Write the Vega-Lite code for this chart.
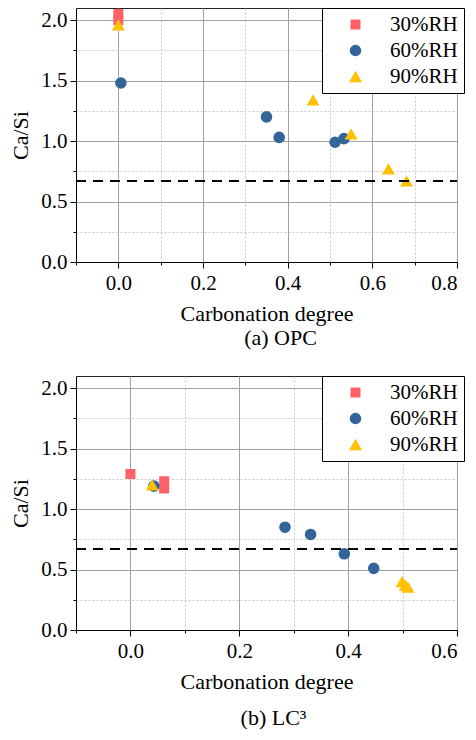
{
  "$schema": "https://vega.github.io/schema/vega-lite/v6.json",
  "padding": {"left": 9, "top": 7, "right": 0, "bottom": 0},
  "spacing": 25,
  "config": {
    "font": "Liberation Serif",
    "view": {"stroke": "#222", "strokeWidth": 1},
    "axis": {"labelColor": "#000", "titleColor": "#000", "domainColor": "#000", "tickColor": "#000"},
    "axisX": {"labelFont": {"expr": "'Liberation Serif'"}, "titleFont": {"expr": "'Liberation Serif'"}},
    "axisY": {"labelFont": {"expr": "'Liberation Serif'"}, "titleFont": {"expr": "'Liberation Serif'"}},
    "legend": {"labelFont": {"expr": "'Liberation Serif'"}}
  },
  "datasets": {
    "opc": [
      {"rh": "30%RH", "degree": 0.0, "ratio": 2.05},
      {"rh": "30%RH", "degree": 0.0, "ratio": 2.0},
      {"rh": "60%RH", "degree": 0.006, "ratio": 1.48},
      {"rh": "60%RH", "degree": 0.35, "ratio": 1.2},
      {"rh": "60%RH", "degree": 0.38, "ratio": 1.03},
      {"rh": "60%RH", "degree": 0.512, "ratio": 0.99},
      {"rh": "60%RH", "degree": 0.533, "ratio": 1.02},
      {"rh": "90%RH", "degree": 0.0, "ratio": 1.96},
      {"rh": "90%RH", "degree": 0.46, "ratio": 1.34},
      {"rh": "90%RH", "degree": 0.55, "ratio": 1.06},
      {"rh": "90%RH", "degree": 0.638, "ratio": 0.77},
      {"rh": "90%RH", "degree": 0.681, "ratio": 0.67}
    ],
    "lc3": [
      {"rh": "30%RH", "degree": 0.0, "ratio": 1.29},
      {"rh": "30%RH", "degree": 0.062, "ratio": 1.23},
      {"rh": "30%RH", "degree": 0.062, "ratio": 1.17},
      {"rh": "60%RH", "degree": 0.043, "ratio": 1.19},
      {"rh": "60%RH", "degree": 0.284, "ratio": 0.85},
      {"rh": "60%RH", "degree": 0.331, "ratio": 0.79},
      {"rh": "60%RH", "degree": 0.393, "ratio": 0.63},
      {"rh": "60%RH", "degree": 0.447, "ratio": 0.51},
      {"rh": "90%RH", "degree": 0.04, "ratio": 1.2},
      {"rh": "90%RH", "degree": 0.499, "ratio": 0.4},
      {"rh": "90%RH", "degree": 0.505, "ratio": 0.37},
      {"rh": "90%RH", "degree": 0.51, "ratio": 0.355}
    ],
    "threshold_opc": [{"ratio": 0.67, "from": -0.1, "to": 0.8}],
    "threshold_lc3": [{"ratio": 0.67, "from": -0.1, "to": 0.6}]
  },
  "vconcat": [
    {
      "width": 381, "height": 254,
      "title": {"text": "(a) OPC", "orient": "bottom", "dx": 14, "offset": 4, "font": "Liberation Serif", "fontSize": 22, "fontWeight": "normal", "color": "#000"},
      "layer": [
        {
          "data": {"name": "opc"},
          "mark": {"type": "point", "filled": true, "opacity": 1},
          "encoding": {
            "x": {"field": "degree", "type": "quantitative", "title": "Carbonation degree",
              "scale": {"domain": [-0.1, 0.8], "nice": false, "zero": false},
              "axis": {"grid": true, "values": [-0.1, 0, 0.1, 0.2, 0.3, 0.4, 0.5, 0.6, 0.7, 0.8], "format": ".1f",
                "labelFont": {"expr": "'Liberation Serif'"}, "titleFont": {"expr": "'Liberation Serif'"}, "labelFontSize": 21, "titleFontSize": 22, "titleFontWeight": "normal",
                "labelExpr": "round(datum.value*10) % 2 != 0 ? '' : datum.label",
                "tickSize": {"condition": {"test": "round(datum.value*10) % 2 != 0", "value": 3}, "value": 6},
                "gridDash": {"condition": {"test": "round(datum.value*10) % 2 != 0", "value": [2, 2]}, "value": []},
                "gridColor": {"condition": {"test": "round(datum.value*10) % 2 != 0", "value": "#c8c8c8"}, "value": "#a0a0a0"},
                "labelPadding": 4, "titlePadding": 10}},
            "y": {"field": "ratio", "type": "quantitative", "title": "Ca/Si",
              "scale": {"domain": [0, 2.1], "nice": false},
              "axis": {"grid": true, "values": [0, 0.25, 0.5, 0.75, 1, 1.25, 1.5, 1.75, 2], "format": ".1f",
                "labelFont": {"expr": "'Liberation Serif'"}, "titleFont": {"expr": "'Liberation Serif'"}, "labelFontSize": 21, "titleFontSize": 22, "titleFontWeight": "normal",
                "labelExpr": "round(datum.value*4) % 2 != 0 ? '' : datum.label",
                "tickSize": {"condition": {"test": "round(datum.value*4) % 2 != 0", "value": 3}, "value": 6},
                "gridDash": {"condition": {"test": "round(datum.value*4) % 2 != 0", "value": [2, 2]}, "value": []},
                "gridColor": {"condition": {"test": "round(datum.value*4) % 2 != 0", "value": "#c8c8c8"}, "value": "#a0a0a0"},
                "labelPadding": 3, "titlePadding": 8}},
            "color": {"field": "rh", "type": "nominal", "title": null,
              "scale": {"domain": ["30%RH", "60%RH", "90%RH"], "range": ["#fe6266", "#33649a", "#ffc000"]},
              "legend": {"orient": "none", "legendX": 246, "legendY": 0, "strokeColor": "#000", "fillColor": "#fff",
                "padding": 6, "symbolOffset": 17, "labelOffset": 24, "rowPadding": 4, "labelFontSize": 21, "labelFont": {"expr": "'Liberation Serif'"}, "labelColor": "#000"}},
            "shape": {"field": "rh", "type": "nominal", "title": null,
              "scale": {"domain": ["30%RH", "60%RH", "90%RH"], "range": ["square", "circle", "triangle-up"]},
              "legend": {"orient": "none", "legendX": 246, "legendY": 0, "strokeColor": "#000", "fillColor": "#fff",
                "padding": 6, "symbolOffset": 17, "labelOffset": 24, "rowPadding": 4, "labelFontSize": 21, "labelFont": {"expr": "'Liberation Serif'"}, "labelColor": "#000"}},
            "size": {"field": "rh", "type": "ordinal", "title": null,
              "scale": {"domain": ["30%RH", "60%RH", "90%RH"], "range": [100, 170, 210]},
              "legend": {"orient": "none", "legendX": 246, "legendY": 0, "strokeColor": "#000", "fillColor": "#fff",
                "padding": 6, "symbolOffset": 17, "labelOffset": 24, "rowPadding": 4, "labelFontSize": 21, "labelFont": {"expr": "'Liberation Serif'"}, "labelColor": "#000"}}
          }
        },
        {
          "data": {"name": "threshold_opc"},
          "mark": {"type": "rule", "color": "#000", "strokeWidth": 2, "strokeDash": [10, 7]},
          "encoding": {
            "x": {"field": "from", "type": "quantitative", "title": "Carbonation degree",
              "scale": {"domain": [-0.1, 0.8], "nice": false, "zero": false},
              "axis": {"grid": true, "values": [-0.1, 0, 0.1, 0.2, 0.3, 0.4, 0.5, 0.6, 0.7, 0.8], "format": ".1f",
                "labelFont": {"expr": "'Liberation Serif'"}, "titleFont": {"expr": "'Liberation Serif'"}, "labelFontSize": 21, "titleFontSize": 22, "titleFontWeight": "normal",
                "labelExpr": "round(datum.value*10) % 2 != 0 ? '' : datum.label",
                "tickSize": {"condition": {"test": "round(datum.value*10) % 2 != 0", "value": 3}, "value": 6},
                "gridDash": {"condition": {"test": "round(datum.value*10) % 2 != 0", "value": [2, 2]}, "value": []},
                "gridColor": {"condition": {"test": "round(datum.value*10) % 2 != 0", "value": "#c8c8c8"}, "value": "#a0a0a0"},
                "labelPadding": 4, "titlePadding": 10}},
            "x2": {"field": "to"},
            "y": {"field": "ratio", "type": "quantitative", "title": "Ca/Si",
              "scale": {"domain": [0, 2.1], "nice": false},
              "axis": {"grid": true, "values": [0, 0.25, 0.5, 0.75, 1, 1.25, 1.5, 1.75, 2], "format": ".1f",
                "labelFont": {"expr": "'Liberation Serif'"}, "titleFont": {"expr": "'Liberation Serif'"}, "labelFontSize": 21, "titleFontSize": 22, "titleFontWeight": "normal",
                "labelExpr": "round(datum.value*4) % 2 != 0 ? '' : datum.label",
                "tickSize": {"condition": {"test": "round(datum.value*4) % 2 != 0", "value": 3}, "value": 6},
                "gridDash": {"condition": {"test": "round(datum.value*4) % 2 != 0", "value": [2, 2]}, "value": []},
                "gridColor": {"condition": {"test": "round(datum.value*4) % 2 != 0", "value": "#c8c8c8"}, "value": "#a0a0a0"},
                "labelPadding": 3, "titlePadding": 8}}
          }
        }
      ]
    },
    {
      "width": 381, "height": 254,
      "title": {"text": "(b) LC³", "orient": "bottom", "dx": 7, "offset": 16, "font": "Liberation Serif", "fontSize": 22, "fontWeight": "normal", "color": "#000"},
      "layer": [
        {
          "data": {"name": "lc3"},
          "mark": {"type": "point", "filled": true, "opacity": 1},
          "encoding": {
            "x": {"field": "degree", "type": "quantitative", "title": "Carbonation degree",
              "scale": {"domain": [-0.1, 0.6], "nice": false, "zero": false},
              "axis": {"grid": true, "values": [-0.1, 0, 0.1, 0.2, 0.3, 0.4, 0.5, 0.6], "format": ".1f",
                "labelFont": {"expr": "'Liberation Serif'"}, "titleFont": {"expr": "'Liberation Serif'"}, "labelFontSize": 21, "titleFontSize": 22, "titleFontWeight": "normal",
                "labelExpr": "round(datum.value*10) % 2 != 0 ? '' : datum.label",
                "tickSize": {"condition": {"test": "round(datum.value*10) % 2 != 0", "value": 3}, "value": 6},
                "gridDash": {"condition": {"test": "round(datum.value*10) % 2 != 0", "value": [2, 2]}, "value": []},
                "gridColor": {"condition": {"test": "round(datum.value*10) % 2 != 0", "value": "#c8c8c8"}, "value": "#a0a0a0"},
                "labelPadding": 4, "titlePadding": 10}},
            "y": {"field": "ratio", "type": "quantitative", "title": "Ca/Si",
              "scale": {"domain": [0, 2.1], "nice": false},
              "axis": {"grid": true, "values": [0, 0.25, 0.5, 0.75, 1, 1.25, 1.5, 1.75, 2], "format": ".1f",
                "labelFont": {"expr": "'Liberation Serif'"}, "titleFont": {"expr": "'Liberation Serif'"}, "labelFontSize": 21, "titleFontSize": 22, "titleFontWeight": "normal",
                "labelExpr": "round(datum.value*4) % 2 != 0 ? '' : datum.label",
                "tickSize": {"condition": {"test": "round(datum.value*4) % 2 != 0", "value": 3}, "value": 6},
                "gridDash": {"condition": {"test": "round(datum.value*4) % 2 != 0", "value": [2, 2]}, "value": []},
                "gridColor": {"condition": {"test": "round(datum.value*4) % 2 != 0", "value": "#c8c8c8"}, "value": "#a0a0a0"},
                "labelPadding": 3, "titlePadding": 8}},
            "color": {"field": "rh", "type": "nominal", "title": null,
              "scale": {"domain": ["30%RH", "60%RH", "90%RH"], "range": ["#fe6266", "#33649a", "#ffc000"]},
              "legend": {"orient": "none", "legendX": 246, "legendY": 0, "strokeColor": "#000", "fillColor": "#fff",
                "padding": 6, "symbolOffset": 17, "labelOffset": 24, "rowPadding": 4, "labelFontSize": 21, "labelFont": {"expr": "'Liberation Serif'"}, "labelColor": "#000"}},
            "shape": {"field": "rh", "type": "nominal", "title": null,
              "scale": {"domain": ["30%RH", "60%RH", "90%RH"], "range": ["square", "circle", "triangle-up"]},
              "legend": {"orient": "none", "legendX": 246, "legendY": 0, "strokeColor": "#000", "fillColor": "#fff",
                "padding": 6, "symbolOffset": 17, "labelOffset": 24, "rowPadding": 4, "labelFontSize": 21, "labelFont": {"expr": "'Liberation Serif'"}, "labelColor": "#000"}},
            "size": {"field": "rh", "type": "ordinal", "title": null,
              "scale": {"domain": ["30%RH", "60%RH", "90%RH"], "range": [100, 170, 210]},
              "legend": {"orient": "none", "legendX": 246, "legendY": 0, "strokeColor": "#000", "fillColor": "#fff",
                "padding": 6, "symbolOffset": 17, "labelOffset": 24, "rowPadding": 4, "labelFontSize": 21, "labelFont": {"expr": "'Liberation Serif'"}, "labelColor": "#000"}}
          }
        },
        {
          "data": {"name": "threshold_lc3"},
          "mark": {"type": "rule", "color": "#000", "strokeWidth": 2, "strokeDash": [10, 7]},
          "encoding": {
            "x": {"field": "from", "type": "quantitative", "title": "Carbonation degree",
              "scale": {"domain": [-0.1, 0.6], "nice": false, "zero": false},
              "axis": {"grid": true, "values": [-0.1, 0, 0.1, 0.2, 0.3, 0.4, 0.5, 0.6], "format": ".1f",
                "labelFont": {"expr": "'Liberation Serif'"}, "titleFont": {"expr": "'Liberation Serif'"}, "labelFontSize": 21, "titleFontSize": 22, "titleFontWeight": "normal",
                "labelExpr": "round(datum.value*10) % 2 != 0 ? '' : datum.label",
                "tickSize": {"condition": {"test": "round(datum.value*10) % 2 != 0", "value": 3}, "value": 6},
                "gridDash": {"condition": {"test": "round(datum.value*10) % 2 != 0", "value": [2, 2]}, "value": []},
                "gridColor": {"condition": {"test": "round(datum.value*10) % 2 != 0", "value": "#c8c8c8"}, "value": "#a0a0a0"},
                "labelPadding": 4, "titlePadding": 10}},
            "x2": {"field": "to"},
            "y": {"field": "ratio", "type": "quantitative", "title": "Ca/Si",
              "scale": {"domain": [0, 2.1], "nice": false},
              "axis": {"grid": true, "values": [0, 0.25, 0.5, 0.75, 1, 1.25, 1.5, 1.75, 2], "format": ".1f",
                "labelFont": {"expr": "'Liberation Serif'"}, "titleFont": {"expr": "'Liberation Serif'"}, "labelFontSize": 21, "titleFontSize": 22, "titleFontWeight": "normal",
                "labelExpr": "round(datum.value*4) % 2 != 0 ? '' : datum.label",
                "tickSize": {"condition": {"test": "round(datum.value*4) % 2 != 0", "value": 3}, "value": 6},
                "gridDash": {"condition": {"test": "round(datum.value*4) % 2 != 0", "value": [2, 2]}, "value": []},
                "gridColor": {"condition": {"test": "round(datum.value*4) % 2 != 0", "value": "#c8c8c8"}, "value": "#a0a0a0"},
                "labelPadding": 3, "titlePadding": 8}}
          }
        }
      ]
    }
  ],
  "resolve": {"scale": {"x": "independent", "y": "independent", "color": "independent", "shape": "independent", "size": "independent"}, "legend": {"color": "independent", "shape": "independent", "size": "independent"}}
}
